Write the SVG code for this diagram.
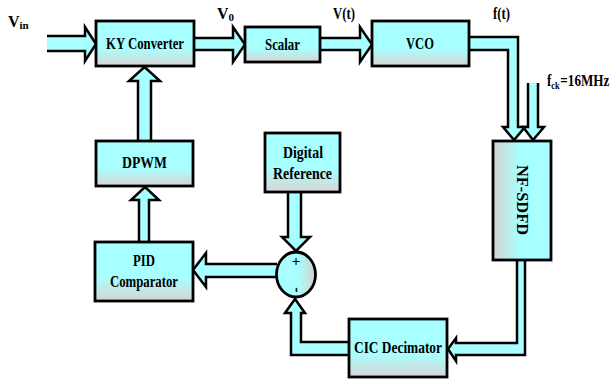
<svg xmlns="http://www.w3.org/2000/svg" width="612" height="379" viewBox="0 0 612 379" font-family="'Liberation Serif', 'Times New Roman', serif">
<defs>
<linearGradient id="gv" x1="0" y1="0" x2="0" y2="1">
<stop offset="0" stop-color="#a8ffff"/><stop offset="0.6" stop-color="#a8ffff"/><stop offset="1" stop-color="#dad3d3"/>
</linearGradient>
<linearGradient id="gh" x1="0" y1="0" x2="1" y2="0">
<stop offset="0" stop-color="#d6d0d0"/><stop offset="0.45" stop-color="#a8ffff"/><stop offset="1" stop-color="#a8ffff"/>
</linearGradient>
<linearGradient id="ge" x1="0" y1="0" x2="1" y2="0">
<stop offset="0" stop-color="#a8ffff"/><stop offset="0.55" stop-color="#a8ffff"/><stop offset="1" stop-color="#d6d0d0"/>
</linearGradient>
<style>
.box{stroke:#000;stroke-width:2.8}
.arr{fill:#a8ffff;stroke:#000;stroke-width:2.5;stroke-linejoin:miter}
text{font-family:'Liberation Serif','Times New Roman',serif;font-weight:bold;fill:#000}
.t{font-size:17px;text-anchor:middle}
.l{font-size:16px}
</style>
</defs>
<g id="connectors">
<path class="arr" d="M47,36 H85 V27 L96,44 L85,61 V51 H47"/>
<path class="arr" d="M194,38 H233 V27 L245,44.5 L233,62 V50 H194"/>
<path class="arr" d="M320,38 H360 V27 L372,44.5 L360,62 V50 H320"/>
<path class="arr" d="M469,37 H518 V127 H525 L514,140 L503,127 H508 V50 H469"/>
<path class="arr" d="M538,83 V127 H544 L533,140 L523,127 H528 V83"/>
<path class="arr" d="M525,260 V355 H456 V361 L448,349 L456,338 V343 H517 V260"/>
<path class="arr" d="M349,355 H291 V313 H285 L295,299 L305,313 H301 V342 H349"/>
<path class="arr" d="M277,264 H206 V253 L193,270 L206,287 V277 H277"/>
<path class="arr" d="M288,192 V237 H282 L296,251 L310,237 H301 V192"/>
<path class="arr" d="M139,242 V200 H131 L145,187 L159,200 H149 V242"/>
<path class="arr" d="M138,141 V81 H129 L144.5,67 L160,81 H151 V141"/>
</g>
<g id="ky"><rect class="box" x="96" y="21" width="98" height="45" fill="url(#gv)"/><text class="t" x="145" y="49" textLength="78" lengthAdjust="spacingAndGlyphs">KY Converter</text></g>
<g id="scalar"><rect class="box" x="245" y="27" width="75" height="35" fill="url(#gv)"/><text class="t" x="282.5" y="50" textLength="35" lengthAdjust="spacingAndGlyphs">Scalar</text></g>
<g id="vco"><rect class="box" x="372" y="21" width="97" height="45" fill="url(#gv)"/><text class="t" x="420" y="49" textLength="28" lengthAdjust="spacingAndGlyphs">VCO</text></g>
<g id="nfsdfd"><rect class="box" x="493" y="141" width="58" height="119" fill="url(#gh)"/><text class="t" transform="translate(517,200) rotate(90)" x="0" y="0" textLength="70" lengthAdjust="spacingAndGlyphs">NF-SDFD</text></g>
<g id="cic"><rect class="box" x="349" y="319" width="98" height="58" fill="url(#gv)"/><text class="t" x="398" y="353" textLength="88" lengthAdjust="spacingAndGlyphs">CIC Decimator</text></g>
<g id="dref"><rect class="box" x="265" y="133" width="75" height="59" fill="url(#gv)"/><text class="t" x="303" y="158" textLength="40" lengthAdjust="spacingAndGlyphs">Digital</text><text class="t" x="302.5" y="179" textLength="59" lengthAdjust="spacingAndGlyphs">Reference</text></g>
<g id="pid"><rect class="box" x="95" y="242" width="98" height="59" fill="url(#gv)"/><text class="t" x="144" y="266" textLength="22" lengthAdjust="spacingAndGlyphs">PID</text><text class="t" x="144" y="287" textLength="68" lengthAdjust="spacingAndGlyphs">Comparator</text></g>
<g id="dpwm"><rect class="box" x="96" y="141" width="97" height="45" fill="url(#gv)"/><text class="t" x="144.5" y="168" textLength="45" lengthAdjust="spacingAndGlyphs">DPWM</text></g>
<g id="summer"><ellipse class="box" cx="296" cy="274.5" rx="19.5" ry="22.5" fill="url(#ge)"/><text class="t" x="296" y="266" style="font-size:15px">+</text><text class="t" transform="translate(296,290) rotate(90)" x="0" y="4" style="font-size:16px">-</text></g>
<g id="labels">
<text class="l" x="8" y="27">V<tspan dy="2" style="font-size:11px">in</tspan></text>
<text class="l" x="217" y="19">V<tspan dy="2" style="font-size:11px">0</tspan></text>
<text class="l" x="333" y="19" textLength="22" lengthAdjust="spacingAndGlyphs">V(t)</text>
<text class="l" x="493" y="19" textLength="17" lengthAdjust="spacingAndGlyphs">f(t)</text>
<text class="l" transform="translate(547,86) scale(0.82,1)" x="0" y="0">f<tspan dy="3" style="font-size:10px">ck</tspan><tspan dy="-3" dx="1">=16MHz</tspan></text>
</g>
</svg>
